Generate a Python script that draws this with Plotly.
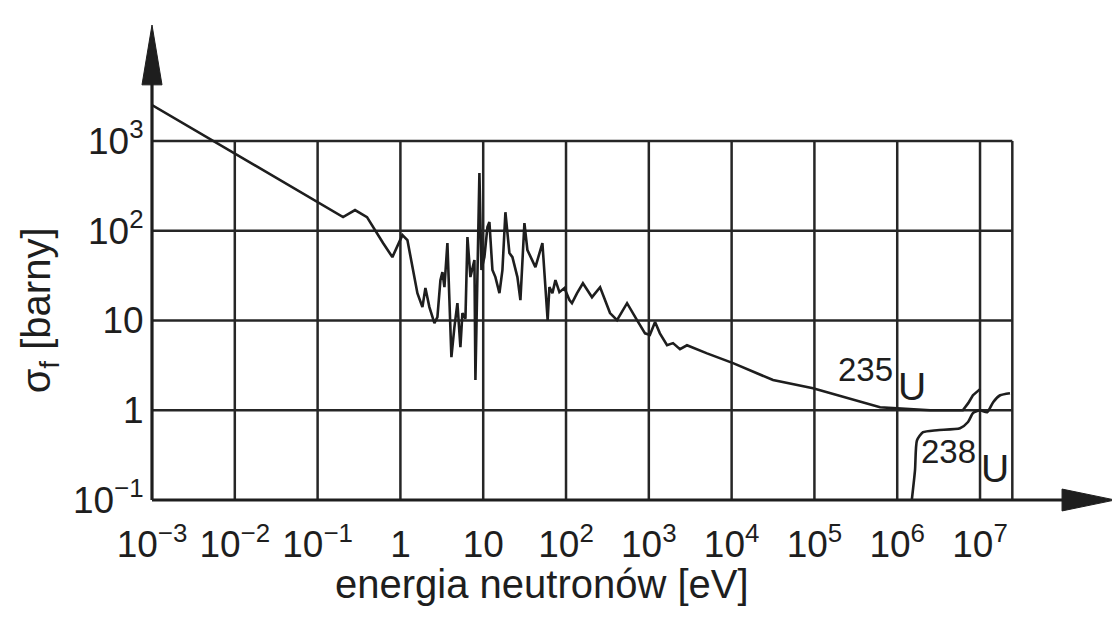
import plotly.graph_objects as go

# ---- data ----
u235_energy = [0.001, 0.107, 0.203, 0.283, 0.395, 0.617, 0.80, 1.057, 1.215, 1.604,
               1.844, 2.004, 2.239, 2.574, 2.798, 3.042, 3.216, 3.400, 3.695, 3.906,
               4.129, 4.489, 4.880, 5.303, 5.608, 6.1, 6.45, 7.004, 7.831, 8.051,
               8.997, 9.513, 10.34, 11.24, 11.88, 12.92, 14.04, 15.70, 17.06, 18.54,
               20.72, 22.53, 25.88, 28.14, 31.45, 34.18, 37.15, 42.71, 51.87, 56.39,
               60.0, 63.0, 68.5, 74.5, 83.2, 95.7, 110, 118, 136, 160, 206, 258, 340,
               413, 546, 720, 900, 1030, 1190, 1360, 1660, 1960, 2380, 2890, 5050,
               10400, 31600, 96200, 248000, 620000, 1.0e6, 2.5e6, 6.2e6, 7.2e6,
               8.2e6, 1.0e7]
u235_sigma = [2520, 204, 142, 170, 142, 73, 50.9, 89.5, 78.7, 20.2,
              14.1, 23.0, 14.1, 9.35, 10.9, 28.2, 34.6, 23.6, 72.9, 16.9,
              3.91, 8.43, 15.6, 5.05, 12.1, 10.5, 85.1, 30.5, 47.1, 2.17,
              440, 36.5, 50.9, 110, 125, 36.5, 30.5, 20.2, 36.5, 161,
              56.4, 50.9, 30.5, 16.9, 122, 61, 50.9, 39.4, 72.9, 26.1,
              10.1, 23.6, 20.2, 28.2, 20.7, 23.0, 16.9, 15.6, 20.2, 26, 18.2, 23.5, 12.1,
              10.1, 15.6, 10.1, 7.2, 6.9, 9.6, 7.2, 5.3, 5.6, 4.8, 5.3, 4.3,
              3.35, 2.17, 1.76, 1.36, 1.08, 1.05, 1.0, 1.0, 1.2,
              1.47, 1.72]

u238_energy = [1.5e6, 1.64e6, 1.73e6, 2.05e6, 3.03e6, 5.73e6, 7.16e6, 8.23e6,
               1.0e7, 1.22e7, 1.44e7, 1.75e7, 2.3e7]
u238_sigma = [0.1, 0.215, 0.46, 0.57, 0.60, 0.63, 0.74, 0.93,
              1.0, 0.95, 1.23, 1.47, 1.55]

x_tickvals = [1e-3, 1e-2, 1e-1, 1, 10, 1e2, 1e3, 1e4, 1e5, 1e6, 1e7]
x_ticktext = ["10<sup>−3</sup>", "10<sup>−2</sup>", "10<sup>−1</sup>", "1", "10",
              "10<sup>2</sup>", "10<sup>3</sup>", "10<sup>4</sup>", "10<sup>5</sup>",
              "10<sup>6</sup>", "10<sup>7</sup>"]
y_tickvals = [0.1, 1, 10, 100, 1000]
y_ticktext = ["10<sup>−1</sup>", "1", "10", "10<sup>2</sup>", "10<sup>3</sup>"]

mass_235, mass_238, element = "235", "238", "U"
x_title = "energia neutronów [eV]"
y_title = "σ<sub>f</sub> [barny]"

# ---- layout constants ----
X_BOX_MAX = 10 ** 7.39
FONT = "Liberation Sans, Arial, sans-serif"
INK = "#1e1e1e"
GRID = "#262626"

fig = go.Figure()

# grid box (drawn as line traces in data coordinates)
gx, gy = [], []
for v in x_tickvals[1:] + [X_BOX_MAX]:
    gx += [v, v, None]
    gy += [y_tickvals[0], y_tickvals[-1], None]
for v in y_tickvals[1:]:
    gx += [x_tickvals[0], X_BOX_MAX, None]
    gy += [v, v, None]
fig.add_trace(go.Scatter(x=gx, y=gy, mode="lines", line=dict(color=GRID, width=2.5),
                         hoverinfo="skip", showlegend=False))

fig.add_trace(go.Scatter(x=u235_energy, y=u235_sigma, mode="lines",
                         line=dict(color=INK, width=2.6), showlegend=False, name="235U"))
fig.add_trace(go.Scatter(x=u238_energy, y=u238_sigma, mode="lines",
                         line=dict(color=INK, width=2.6, shape="spline", smoothing=0.6),
                         showlegend=False, name="238U"))

# axes with arrows (paper coordinates)
shapes = [
    dict(type="line", xref="paper", yref="paper", x0=0, y0=0, x1=0, y1=0.9,
         line=dict(color=INK, width=3.2)),
    dict(type="line", xref="paper", yref="paper", x0=0, y0=0, x1=0.95, y1=0,
         line=dict(color=INK, width=3.2)),
    dict(type="path", xref="paper", yref="paper",
         path="M -0.0104,0.874 L 0.0104,0.874 L 0,1 Z",
         fillcolor=INK, line=dict(color=INK, width=1)),
    dict(type="path", xref="paper", yref="paper",
         path="M 0.945,-0.023 L 0.945,0.023 L 1,0 Z",
         fillcolor=INK, line=dict(color=INK, width=1)),
]


def txt(text, x, y, size, angle=0):
    return dict(text=text, x=x, y=y, xref="paper", yref="paper", textangle=angle,
                xanchor="center", yanchor="middle", showarrow=False,
                font=dict(size=size, color=INK, family=FONT))


annotations = [
    txt(mass_235, 0.7414, 0.2737, 33),
    txt(element, 0.7892, 0.2379, 39),
    txt(mass_238, 0.8276, 0.1011, 33),
    txt(element, 0.8754, 0.0653, 39),
    txt(x_title, 0.4052, -0.176, 40),
    txt(y_title, -0.117, 0.40, 40, angle=-90),
]

# the page body adds an 8 px offset, so margins are reduced by 8 on the left/top
fig.update_layout(
    width=1120, height=618,
    margin=dict(l=144, r=13, t=17, b=126),
    paper_bgcolor="white", plot_bgcolor="white",
    font=dict(family=FONT, color=INK, size=36),
    shapes=shapes, annotations=annotations,
    showlegend=False,
)
fig.update_xaxes(type="log", range=[-3, 8.63], showgrid=False, zeroline=False,
                 showline=False, automargin=False, tickvals=x_tickvals,
                 ticktext=x_ticktext, ticks="outside", ticklen=12,
                 tickcolor="rgba(0,0,0,0)",
                 tickfont=dict(size=37, family=FONT, color=INK))
fig.update_yaxes(type="log", range=[-1, 4.293], showgrid=False, zeroline=False,
                 showline=False, automargin=False, tickvals=y_tickvals,
                 ticktext=y_ticktext, ticks="outside", ticklen=0,
                 tickcolor="rgba(0,0,0,0)",
                 tickfont=dict(size=37, family=FONT, color=INK))

fig.write_html("out.html")
